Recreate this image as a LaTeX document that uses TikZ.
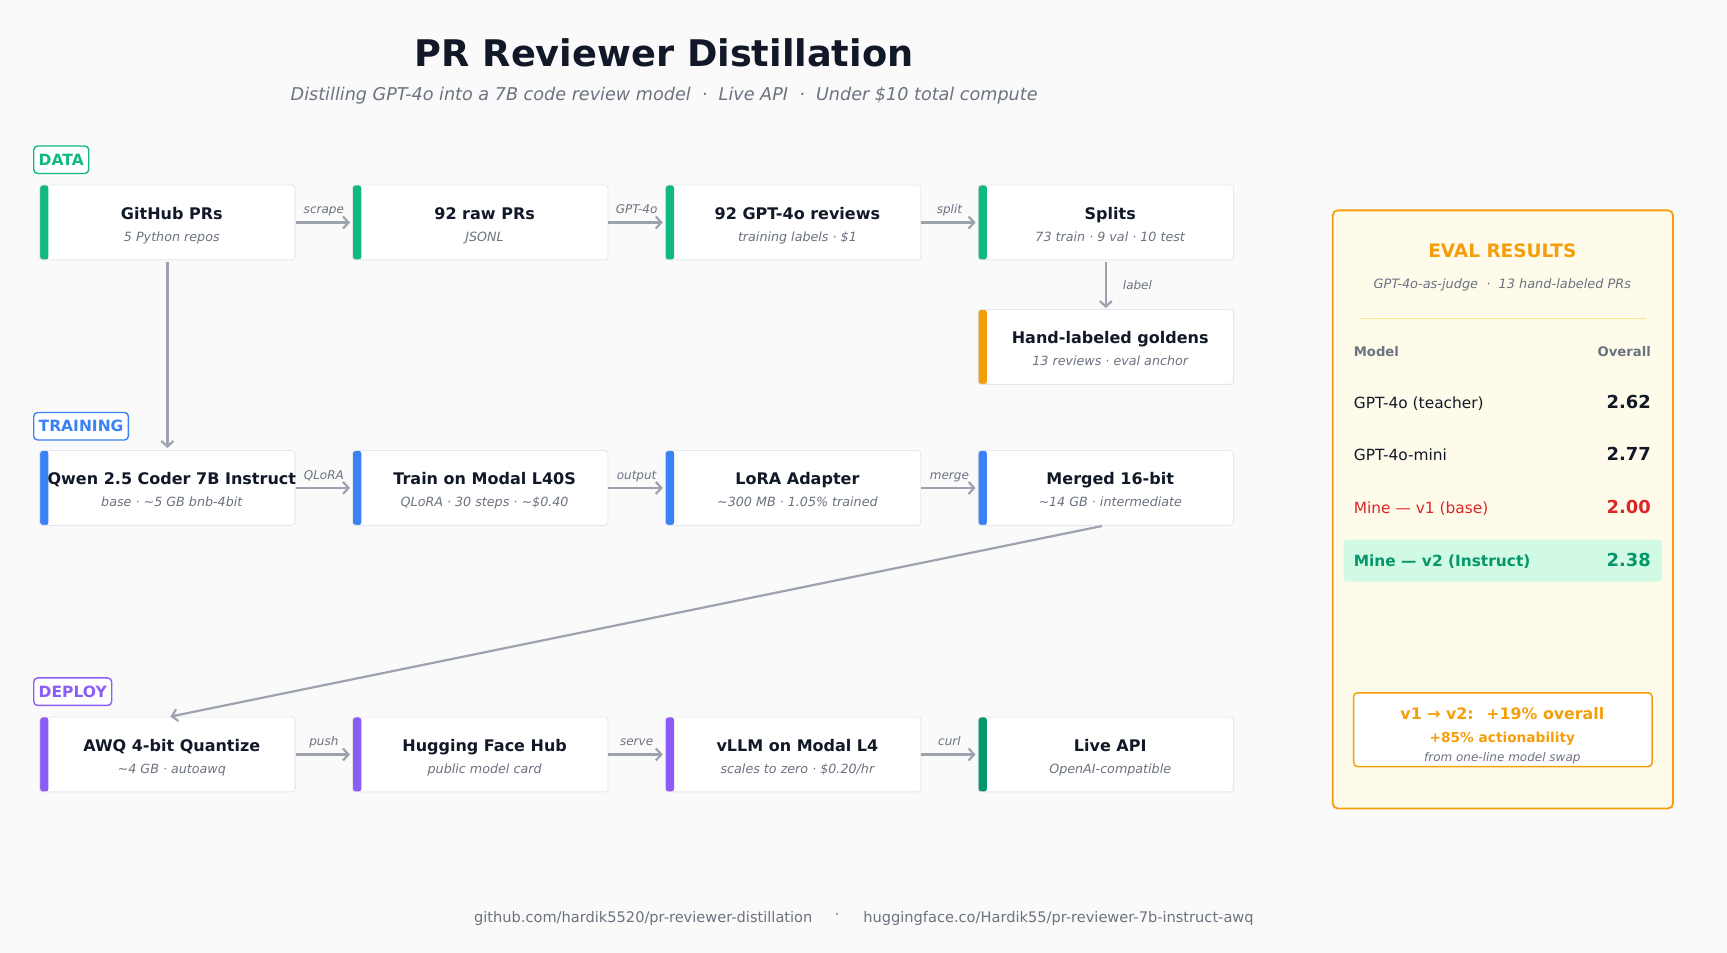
\documentclass[tikz,border=0pt]{standalone}
\usepackage{fontspec}
\setmainfont{DejaVu Sans}
\usetikzlibrary{arrows.meta,calc}
\definecolor{bg}{HTML}{FAFAFA}
\definecolor{ink}{HTML}{111827}
\definecolor{mute}{HTML}{6B7280}
\definecolor{agray}{HTML}{9CA3AF}
\definecolor{bordr}{HTML}{E5E7EB}
\definecolor{cgreen}{HTML}{10B981}
\definecolor{cdgreen}{HTML}{059669}
\definecolor{cblue}{HTML}{3B82F6}
\definecolor{cpurple}{HTML}{8B5CF6}
\definecolor{corange}{HTML}{F59E0B}
\definecolor{cred}{HTML}{DC2626}
\definecolor{cream}{HTML}{FFFBEB}
\definecolor{mint}{HTML}{D1FAE5}
\definecolor{okgreen}{HTML}{059669}
\definecolor{sepline}{HTML}{FDE68A}
\tikzset{
  stagebox/.style={draw=bordr, fill=white, line width=0.9pt, rounded corners=3pt,
    minimum width=255.5pt, minimum height=74.9pt, inner sep=0pt,
    path picture={\fill[#1] (path picture bounding box.north west) rectangle ([xshift=8.8pt]path picture bounding box.south west);}},
  stt/.style={inner sep=0pt, anchor=base, text=ink, font=\fontsize{16}{19}\selectfont\bfseries},
  sst/.style={inner sep=0pt, anchor=base, text=mute, font=\fontsize{12.7}{15}\selectfont\itshape},
  conn/.style={draw=agray, line width=2.2pt, -{Straight Barb[length=5.5pt,width=12pt,line width=2.2pt]}},
  lbl/.style={inner sep=0pt, anchor=base, text=mute, font=\fontsize{12}{14}\selectfont\itshape},
  sect/.style={draw=#1, text=#1, fill=white, line width=1.4pt, rounded corners=4pt, anchor=west,
    inner xsep=5pt, minimum height=27.5pt, font=\fontsize{15.5}{17}\selectfont\bfseries},
  prow/.style={inner sep=0pt, anchor=base west, font=\fontsize{15.4}{18}\selectfont},
  pnum/.style={inner sep=0pt, anchor=base east, font=\fontsize{17.9}{21}\selectfont\bfseries},
}
\newcommand\stage[6]{%
  \node[stagebox=#4] (#1) at (#2,#3) {};
  \node[stt] (#1-t) at ([xshift=4.4pt,yshift=3.3pt]#1.center) {#5};
  \node[sst] (#1-s) at ([xshift=4.4pt,yshift=-18.8pt]#1.center) {#6};
}
\begin{document}
\begin{tikzpicture}[x=1.1014pt,y=-1.1014pt]
\fill[bg] (0,0) rectangle (1568,865);
\useasboundingbox (0,0) rectangle (1568,865);

% title
\node[inner sep=0pt, text=ink, font=\fontsize{36.7}{42}\selectfont\bfseries] (title) at (603,48) {PR Reviewer Distillation};
\node[inner sep=0pt, text=mute, font=\fontsize{17.6}{21}\selectfont\itshape] (subtitle) at (603,86.5)
  {Distilling GPT-4o into a 7B code review model \ · \ Live API \ · \ Under \$10 total compute};

% section labels
\node[sect=cgreen] (sdata) at (30,145) {DATA};
\node[sect=cblue] (strain) at (30,387) {TRAINING};
\node[sect=cpurple] (sdeploy) at (30,628) {DEPLOY};

% row 1
\stage{gh}{152}{202}{cgreen}{GitHub PRs}{5 Python repos}
\stage{raw}{436}{202}{cgreen}{92 raw PRs}{JSONL}
\stage{rev}{720}{202}{cgreen}{92 GPT-4o reviews}{training labels · \$1}
\stage{spl}{1004}{202}{cgreen}{Splits}{73 train · 9 val · 10 test}
\stage{gold}{1004}{315}{corange}{Hand-labeled goldens}{13 reviews · eval anchor}
% row 2
\stage{qwen}{152}{443}{cblue}{Qwen 2.5 Coder 7B Instruct}{base · \textasciitilde5 GB bnb-4bit}
\stage{trn}{436}{443}{cblue}{Train on Modal L40S}{QLoRA · 30 steps · \textasciitilde\$0.40}
\stage{lora}{720}{443}{cblue}{LoRA Adapter}{\textasciitilde300 MB · 1.05\% trained}
\stage{mrg}{1004}{443}{cblue}{Merged 16-bit}{\textasciitilde14 GB · intermediate}
% row 3
\stage{awq}{152}{685}{cpurple}{AWQ 4-bit Quantize}{\textasciitilde4 GB · autoawq}
\stage{hub}{436}{685}{cpurple}{Hugging Face Hub}{public model card}
\stage{vllm}{720}{685}{cpurple}{vLLM on Modal L4}{scales to zero · \$0.20/hr}
\stage{api}{1004}{685}{cdgreen}{Live API}{OpenAI-compatible}

% connectors
\draw[conn, shorten >=2pt] (gh.east) -- node[lbl, yshift=8.8pt] {scrape} (raw.west);
\draw[conn, shorten >=2pt] (raw.east) -- node[lbl, yshift=8.8pt] {GPT-4o} (rev.west);
\draw[conn, shorten >=2pt] (rev.east) -- node[lbl, yshift=8.8pt] {split} (spl.west);
\draw[conn, shorten <=2pt, shorten >=1pt] (spl.south) -- node[lbl, anchor=west, xshift=16pt] {label} (gold.north);
\draw[conn, shorten <=2pt, shorten >=2pt] (gh.south) -- (qwen.north);
\draw[conn, shorten >=2pt] (qwen.east) -- node[lbl, yshift=8.8pt] {QLoRA} (trn.west);
\draw[conn, shorten >=2pt] (trn.east) -- node[lbl, yshift=8.8pt] {output} (lora.west);
\draw[conn, shorten >=2pt] (lora.east) -- node[lbl, yshift=8.8pt] {merge} (mrg.west);
\draw[conn, shorten <=1pt] ([xshift=-3pt]mrg.south) -- ([xshift=3pt]awq.north);
\draw[conn, shorten >=2pt] (awq.east) -- node[lbl, yshift=8.8pt] {push} (hub.west);
\draw[conn, shorten >=2pt] (hub.east) -- node[lbl, yshift=8.8pt] {serve} (vllm.west);
\draw[conn, shorten >=2pt] (vllm.east) -- node[lbl, yshift=8.8pt] {curl} (api.west);

% eval panel
\draw[fill=cream, draw=corange, line width=1.8pt, rounded corners=5pt] (1210,191) rectangle (1519,734);
\node[inner sep=0pt, text=corange, font=\fontsize{18.5}{21}\selectfont\bfseries] (evt) at (1364,228) {EVAL RESULTS};
\node[inner sep=0pt, text=mute, font=\fontsize{12.9}{15}\selectfont\itshape] (evs) at (1364,259) {GPT-4o-as-judge \ · \ 13 hand-labeled PRs};
\draw[sepline, line width=1pt] (1236,289) -- (1494,289);
\node[inner sep=0pt, anchor=base west, text=mute, font=\fontsize{13.2}{15}\selectfont\bfseries] (hm) at (1229,323.5) {Model};
\node[inner sep=0pt, anchor=base east, text=mute, font=\fontsize{13.2}{15}\selectfont\bfseries] (ho) at (1499,323.5) {Overall};
\node[prow, text=ink] (r1) at (1229,370.5) {GPT-4o (teacher)};
\node[pnum, text=ink] (n1) at (1499,370.5) {2.62};
\node[prow, text=ink] (r2) at (1229,418.5) {GPT-4o-mini};
\node[pnum, text=ink] (n2) at (1499,418.5) {2.77};
\node[prow, text=cred] (r3) at (1229,466.5) {Mine — v1 (base)};
\node[pnum, text=cred] (n3) at (1499,466.5) {2.00};
\fill[mint, rounded corners=3pt] (1220,490) rectangle (1509,528);
\node[prow, text=okgreen, font=\fontsize{15.4}{18}\selectfont\bfseries] (r4) at (1229,514.5) {Mine — v2 (Instruct)};
\node[pnum, text=okgreen] (n4) at (1499,514.5) {2.38};
\draw[fill=white, draw=corange, line width=1.5pt, rounded corners=4pt] (1229,629) rectangle (1500,696);
\node[inner sep=0pt, text=corange, font=\fontsize{15.8}{18}\selectfont\bfseries] (b1) at (1364,648) {v1 → v2: \ +19\% overall};
\node[inner sep=0pt, text=corange, font=\fontsize{13.7}{16}\selectfont\bfseries] (b2) at (1364,671) {+85\% actionability};
\node[inner sep=0pt, text=mute, font=\fontsize{12}{14}\selectfont\itshape] (b3) at (1364,688) {from one-line model swap};

% footer
\node[inner sep=0pt, text=mute, font=\fontsize{14.6}{17}\selectfont] (f1) at (584,833.5) {github.com/hardik5520/pr-reviewer-distillation};
\node[inner sep=0pt, text=mute, font=\fontsize{14.6}{17}\selectfont] (f2) at (760,832.5) {·};
\node[inner sep=0pt, text=mute, font=\fontsize{14.6}{17}\selectfont] (f3) at (961,833.5) {huggingface.co/Hardik55/pr-reviewer-7b-instruct-awq};
\end{tikzpicture}
\end{document}
